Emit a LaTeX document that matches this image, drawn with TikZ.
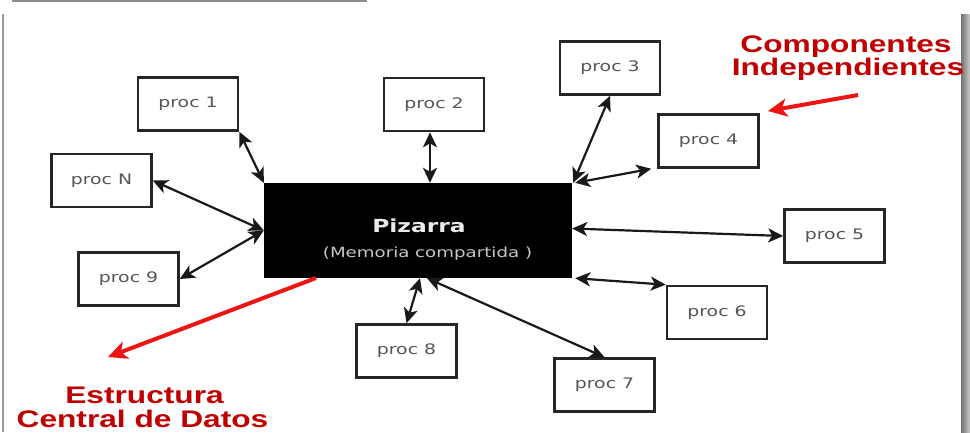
\documentclass[tikz,border=0pt]{standalone}
\usepackage{fontspec}
\usepackage{graphicx}
\usetikzlibrary{arrows.meta}
\newfontfamily\procfont{DejaVu Sans}
\newfontfamily\notefont{Liberation Sans}
\definecolor{notered}{RGB}{192,0,0}
\definecolor{pointred}{RGB}{238,20,20}
\definecolor{proctext}{RGB}{85,85,85}
\newcommand{\wide}[2][1.3]{\scalebox{#1}[1]{#2}}

\tikzset{
	procbox/.style={draw=black!85, line width=2.6pt, minimum width=100pt, minimum height=53pt,
		inner sep=0pt, text=proctext, font=\procfont\fontsize{14.5}{16}\selectfont},
	board/.style={fill=black, minimum width=308pt, minimum height=95pt, inner sep=0pt},
	link/.style={{Stealth[length=15pt,width=14pt,inset=4pt]}-{Stealth[length=15pt,width=14pt,inset=4pt]}, line width=2.2pt, black!90},
	pointer/.style={-{Stealth[length=19pt,width=18pt,inset=5pt]}, line width=4pt, pointred},
	note/.style={anchor=base, text=notered, font=\notefont\bfseries\fontsize{24}{26}\selectfont, inner sep=0pt}
}

\begin{document}
\begin{tikzpicture}[x=1pt,y=-1pt]
		\useasboundingbox (0,0) rectangle (970,432);
		% frame
		\draw [black!45, line width=1.5pt] (12,1) -- (367,1);
		\draw [black!40, line width=1.5pt] (3,14) -- (3,432);
		\shade [left color=black!55, right color=black!20] (961,14) rectangle (970,432);
		% blackboard
		\node [board] (piz) at (418,230.5) {};
		\node [text=white!92!black, font=\procfont\bfseries\fontsize{18}{20}\selectfont] (pizt) at (419,226) {\wide{Pizarra}};
		\node [text=black!22, font=\procfont\fontsize{14}{16}\selectfont] (pizs) at (427.5,254) {\wide[1.3]{(Memoria compartida )}};
		% processes
		\node [procbox] (p1) at (188,104) {\wide{proc 1}};
		\node [procbox] (p2) at (434,104.5) {\wide{proc 2}};
		\node [procbox] (p3) at (610,68) {\wide{proc 3}};
		\node [procbox] (p4) at (708.5,141) {\wide{proc 4}};
		\node [procbox] (pN) at (101.5,180.5) {\wide{proc N}};
		\node [procbox] (p5) at (834.5,236) {\wide{proc 5}};
		\node [procbox] (p9) at (128.5,279) {\wide{proc 9}};
		\node [procbox] (p6) at (717,312.5) {\wide{proc 6}};
		\node [procbox] (p8) at (406.5,351) {\wide{proc 8}};
		\node [procbox] (p7) at (604.5,385) {\wide{proc 7}};
		% links
		\draw [link] (p1.south east) -- (piz.north west);
		\draw [link] ([xshift=-4pt]p2.south) -- ([xshift=-4pt]p2.south |- piz.north);
		\draw [link] (p3.south) -- ([xshift=1pt]piz.north east);
		\draw [link] ([xshift=3pt]piz.north east) -- ([xshift=-6pt]p4.south west);
		\draw [link] (pN.east) -- (piz.west);
		\draw [link] (p9.east) -- (piz.west);
		\draw [link] ([yshift=2pt]piz.east) -- (p5.west);
		\draw [link] ([xshift=3pt]piz.south east) -- (p6.north west);
		\draw [link] (p8.north) -- ([xshift=2pt]piz.south);
		\draw [link] ([xshift=9pt]piz.south) -- (p7.north);
		% notes
		\node [note] (ci1) at (846,52.5) {\wide[1.32]{Componentes}};
		\node [note] (ci2) at (848,75.5) {\wide[1.32]{Independientes}};
		\node [note] (ecd1) at (144.5,403) {\wide[1.32]{Estructura}};
		\node [note] (ecd2) at (142.5,427) {\wide[1.32]{Central de Datos}};
		\coordinate (ciFrom) at (858,95);
		\coordinate (ciTo) at (768,111);
		\coordinate (ecdFrom) at (316,278);
		\coordinate (ecdTo) at (108,357);
		\draw [pointer] (ciFrom) -- (ciTo);
		\draw [pointer] (ecdFrom) -- (ecdTo);
	\end{tikzpicture}
\end{document}
